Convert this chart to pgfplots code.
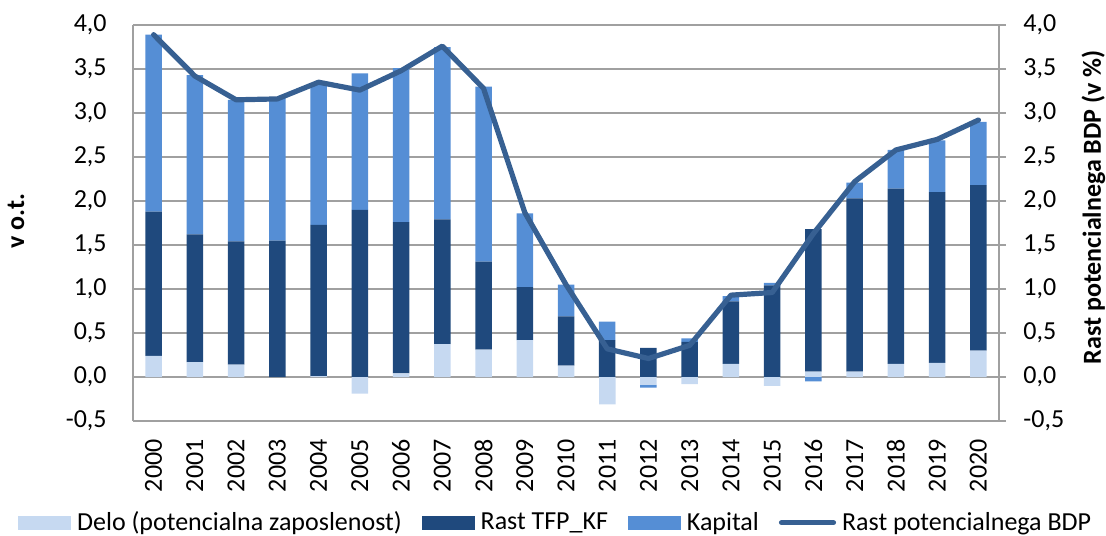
\documentclass[border=0pt]{standalone}
\usepackage{pgfplots}
\usepackage{pgfplotstable}
\pgfplotsset{compat=1.18}
\usepackage{fontspec}
\setmainfont{Carlito}
\definecolor{labc}{RGB}{198,217,241}
\definecolor{tfpc}{RGB}{31,73,125}
\definecolor{capc}{RGB}{85,142,213}
\definecolor{linec}{RGB}{55,96,146}
\definecolor{gridc}{RGB}{160,160,160}

\pgfplotstableread{
x lab tfp cap lin
0 0.24 1.64 2.01 3.89
1 0.17 1.45 1.81 3.42
2 0.14 1.40 1.61 3.15
3 0.00 1.55 1.62 3.16
4 0.01 1.72 1.61 3.35
5 0.00 1.90 1.55 3.26
6 0.04 1.72 1.75 3.48
7 0.375 1.415 1.96 3.76
8 0.31 1.00 1.99 3.28
9 0.42 0.60 0.84 1.87
10 0.13 0.56 0.36 1.05
11 0.00 0.42 0.21 0.32
12 0.00 0.33 0.00 0.21
13 0.00 0.40 0.04 0.36
14 0.15 0.71 0.06 0.93
15 0.00 1.04 0.03 0.96
16 0.06 1.62 0.00 1.63
17 0.06 1.97 0.18 2.22
18 0.15 1.99 0.44 2.58
19 0.16 1.94 0.59 2.70
20 0.30 1.88 0.72 2.92
}\postab

\pgfplotstableread{
x lab tfp cap
0 0 0 0
1 0 0 0
2 0 0 0
3 0 0 0
4 0 0 0
5 -0.19 0 0
6 0 0 0
7 0 0 0
8 0 0 0
9 0 0 0
10 0 0 0
11 -0.31 0 0
12 -0.09 0 -0.03
13 -0.08 0 0
14 0 0 0
15 -0.10 0 0
16 0 0 -0.05
17 0 0 0
18 0 0 0
19 0 0 0
20 0 0 0
}\negtab

\newcommand{\fs}{\fontsize{13}{15.6}\selectfont}

\pgfplotsset{
  base/.style={
    scale only axis, width=433pt, height=198pt,
    at={(66.5pt,57pt)}, anchor=south west,
    xmin=-0.5, xmax=20.5, ymin=-0.5, ymax=4,
    ytick={-0.5,0,0.5,1,1.5,2,2.5,3,3.5,4},
    yticklabels={{-0,5},{0,0},{0,5},{1,0},{1,5},{2,0},{2,5},{3,0},{3,5},{4,0}},
    tick label style={font=\fs},
    label style={font=\fs\bfseries},
  },
}

\begin{document}
\begin{tikzpicture}
\useasboundingbox (0,0) rectangle (553pt,267.5pt);

% axis 1: grid, positive bars, x labels, left axis
\begin{axis}[base,
  ybar stacked, bar width=8.25pt,
  axis x line*=bottom, axis y line*=left,
  axis line style={gridc, line width=0.75pt},
  ymajorgrids, grid style={gridc, line width=0.75pt},
  major tick length=0pt,
  xtick={0,...,20},
  xticklabels={2000,2001,2002,2003,2004,2005,2006,2007,2008,2009,2010,2011,2012,2013,2014,2015,2016,2017,2018,2019,2020},
  xticklabel style={rotate=90, anchor=east, inner sep=0pt},
  xticklabel shift=9pt,
  yticklabel style={inner sep=0pt},
  yticklabel shift=13pt,
  ylabel={v o.t.},
  ylabel style={at={(axis description cs:-0.135,0.505)}, anchor=center, rotate=0},
]
\addplot[fill=labc, draw=none] table[x=x,y=lab]{\postab};
\addplot[fill=tfpc, draw=none] table[x=x,y=tfp]{\postab};
\addplot[fill=capc, draw=none] table[x=x,y=cap]{\postab};
\end{axis}

% axis 2: negative bars
\begin{axis}[base, hide axis, ybar stacked, bar width=8.25pt]
\addplot[fill=labc, draw=none] table[x=x,y=lab]{\negtab};
\addplot[fill=tfpc, draw=none] table[x=x,y=tfp]{\negtab};
\addplot[fill=capc, draw=none] table[x=x,y=cap]{\negtab};
\end{axis}

% axis 3: line, right axis, legend
\begin{axis}[base,
  axis x line=none, axis y line*=right,
  axis line style={gridc, line width=0.75pt},
  tick style={gridc, line width=0.75pt},
  tick align=outside, major tick length=3.5pt,
  yticklabel style={inner sep=0pt},
  yticklabel shift=8.5pt,
  ylabel={Rast potencialnega BDP (v \%)},
  ylabel style={at={(axis description cs:1.109,0.54)}, anchor=center, rotate=0},
  legend columns=4,
  legend style={draw=none, fill=none, font=\fs,
    at={(axis description cs:0.487,-0.257)}, anchor=center,
    nodes={inner sep=0pt},
    /tikz/every odd column/.append style={column sep=3pt},
    /tikz/every even column/.append style={column sep=10pt}},
]
\addlegendimage{legend image code/.code={\fill[labc] (0pt,-3.25pt) rectangle (26pt,3.25pt);}}
\addlegendentry{Delo (potencialna zaposlenost)}
\addlegendimage{legend image code/.code={\fill[tfpc] (0pt,-3.25pt) rectangle (26pt,3.25pt);}}
\addlegendentry{Rast TFP\_KF}
\addlegendimage{legend image code/.code={\fill[capc] (0pt,-3.25pt) rectangle (26pt,3.25pt);}}
\addlegendentry{Kapital}
\addplot[linec, line width=2.6pt, line join=round, line cap=round, mark=none,
  legend image code/.code={\draw[linec, line width=2.6pt, line cap=round] (1pt,0pt) -- (27pt,0pt);}]
  table[x=x,y=lin]{\postab};
\addlegendentry{Rast potencialnega BDP}
\end{axis}
\end{tikzpicture}
\end{document}
